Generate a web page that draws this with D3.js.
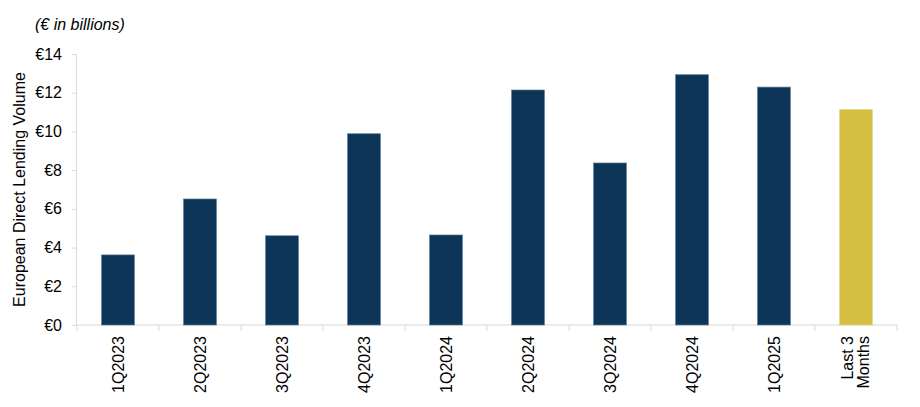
<!DOCTYPE html>
<html>
<head>
  <meta charset="utf-8">
  <title>European Direct Lending Volume</title>
  <script src="https://d3js.org/d3.v7.min.js"></script>
  <style>
    body { margin: 0; background: #fff; }
    svg { font-family: "Liberation Sans", Arial, sans-serif; }
    .axis path, .axis line { stroke: #d9d9d9; }
    .axis text { fill: #000; font-size: 16px; }
  </style>
</head>
<body>
  <svg width="920" height="407"></svg>
  <script>
    const categories = ["1Q2023", "2Q2023", "3Q2023", "4Q2023", "1Q2024",
                        "2Q2024", "3Q2024", "4Q2024", "1Q2025", "Last 3 Months"];
    const volumes = [3.62, 6.51, 4.61, 9.88, 4.65, 12.14, 8.37, 12.93, 12.29, 11.14];
    const yTicks = [0, 2, 4, 6, 8, 10, 12, 14];

    const data = categories.map((c, i) => ({ cat: c, v: volumes[i] }));

    const svg = d3.select("svg");
    const margin = { left: 77, right: 23, top: 54, bottom: 82 };
    const width = 920 - margin.left - margin.right;
    const height = 407 - margin.top - margin.bottom;

    const g = svg.append("g")
      .attr("transform", `translate(${margin.left},${margin.top})`);

    const x = d3.scaleBand()
      .domain(categories)
      .range([0, width])
      .paddingInner(0.6)
      .paddingOuter(0.3);

    const y = d3.scaleLinear()
      .domain([0, 14])
      .range([height, 0]);

    // y axis
    const yAxis = g.append("g")
      .attr("class", "axis")
      .call(d3.axisLeft(y).tickValues(yTicks).tickSize(5).tickPadding(10)
        .tickFormat(d => "€" + d));
    yAxis.select(".domain").attr("d", `M-0.5,0.5V${height}`);

    // x axis: ticks at band boundaries
    const xAxis = g.append("g")
      .attr("class", "axis")
      .attr("transform", `translate(0,${height})`);
    xAxis.append("line")
      .attr("x1", 0).attr("x2", width)
      .attr("stroke", "#d9d9d9");
    const step = x.step();
    const bounds = d3.range(categories.length + 1).map(i => x(categories[0]) - x.paddingOuter() * step + i * step);
    xAxis.selectAll("line.tick")
      .data(bounds)
      .join("line")
      .attr("class", "tick")
      .attr("x1", d => d).attr("x2", d => d)
      .attr("y1", 0).attr("y2", 6)
      .attr("stroke", "#d9d9d9");

    // rotated category labels
    const labels = xAxis.selectAll("text.lab")
      .data(categories)
      .join("text")
      .attr("class", "lab")
      .attr("text-anchor", "end")
      .attr("transform", d => `translate(${x(d) + x.bandwidth() / 2},11) rotate(-90)`);
    labels.each(function (d) {
      const t = d3.select(this);
      if (d === "Last 3 Months") {
        t.append("tspan").attr("x", 0).attr("dy", "-0.2em").text("Last 3");
        t.append("tspan").attr("x", 0).attr("dy", "1.0em").text("Months");
      } else {
        t.append("tspan").attr("x", 0).attr("dy", "0.35em").text(d);
      }
    });

    // bars
    g.selectAll("rect.bar")
      .data(data)
      .join("rect")
      .attr("class", "bar")
      .attr("x", d => x(d.cat))
      .attr("width", x.bandwidth())
      .attr("y", d => y(d.v))
      .attr("height", d => y(0) - y(d.v))
      .attr("fill", d => d.cat === "Last 3 Months" ? "#d4bf42" : "#0c3557")
      .attr("stroke", d => d.cat === "Last 3 Months" ? "#e6d77a" : "#5d7b98")
      .attr("stroke-width", 0.7);

    // y axis title
    svg.append("text")
      .attr("transform", `translate(25,${margin.top + height / 2}) rotate(-90)`)
      .attr("text-anchor", "middle")
      .attr("font-size", 16)
      .text("European Direct Lending Volume");

    // units note
    svg.append("text")
      .attr("x", 35)
      .attr("y", 30)
      .attr("font-size", 16)
      .attr("font-style", "italic")
      .text("(€ in billions)");
  </script>
</body>
</html>
